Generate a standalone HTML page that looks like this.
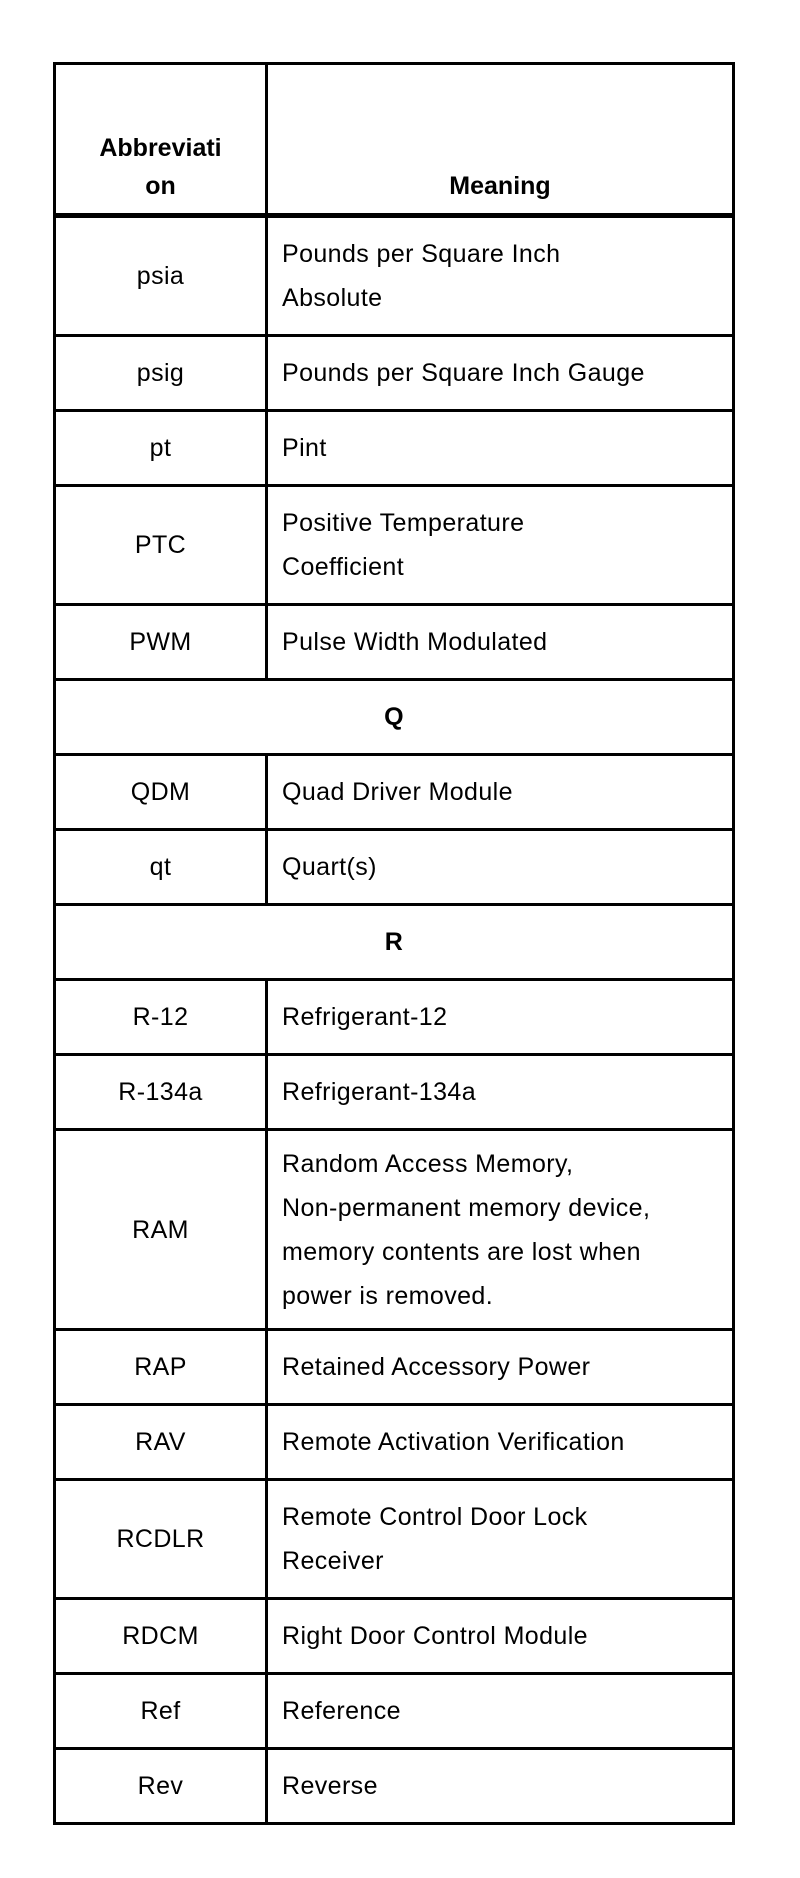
<!DOCTYPE html>
<html><head><meta charset="utf-8"><style>
body{margin:0;background:#fff;width:800px;height:1878px;position:relative;font-family:"Liberation Sans",Arial,sans-serif;color:#000}
table{position:absolute;left:53px;top:62px;width:682px;border-collapse:collapse;table-layout:fixed}
td{border:3px solid #000;font-size:25px;letter-spacing:0.4px;line-height:44px;padding:0 0 0 14px;vertical-align:middle;white-space:nowrap}
td.a{text-align:center;padding:0;width:209px}
tr.s td{height:72px}
tr.d td{height:116px}
tr.h td{height:140px;font-weight:bold;font-size:25px;letter-spacing:0;line-height:38px;vertical-align:bottom;padding-bottom:8px;border-bottom:5px solid #000}
tr.h td.m{text-align:center;padding-left:0}
td.c{text-align:center;font-weight:bold;padding:0}
</style></head><body>
<table>
<tr class="h"><td class="a" style="padding-bottom:8px">Abbreviati<br>on</td><td class="m">Meaning</td></tr>
<tr class="d"><td class="a">psia</td><td>Pounds per Square Inch<br>Absolute</td></tr>
<tr class="s"><td class="a">psig</td><td>Pounds per Square Inch Gauge</td></tr>
<tr class="s"><td class="a">pt</td><td>Pint</td></tr>
<tr class="d"><td class="a">PTC</td><td>Positive Temperature<br>Coefficient</td></tr>
<tr class="s"><td class="a">PWM</td><td>Pulse Width Modulated</td></tr>
<tr class="s"><td class="c" colspan="2">Q</td></tr>
<tr class="s"><td class="a">QDM</td><td>Quad Driver Module</td></tr>
<tr class="s"><td class="a">qt</td><td>Quart(s)</td></tr>
<tr class="s"><td class="c" colspan="2">R</td></tr>
<tr class="s"><td class="a">R-12</td><td>Refrigerant-12</td></tr>
<tr class="s"><td class="a">R-134a</td><td>Refrigerant-134a</td></tr>
<tr style="height:200px"><td class="a">RAM</td><td>Random Access Memory,<br>Non-permanent memory device,<br>memory contents are lost when<br>power is removed.</td></tr>
<tr class="s"><td class="a">RAP</td><td>Retained Accessory Power</td></tr>
<tr class="s"><td class="a">RAV</td><td>Remote Activation Verification</td></tr>
<tr class="d"><td class="a">RCDLR</td><td>Remote Control Door Lock<br>Receiver</td></tr>
<tr class="s"><td class="a">RDCM</td><td>Right Door Control Module</td></tr>
<tr class="s"><td class="a">Ref</td><td>Reference</td></tr>
<tr class="s"><td class="a">Rev</td><td>Reverse</td></tr>
</table>
</body></html>
